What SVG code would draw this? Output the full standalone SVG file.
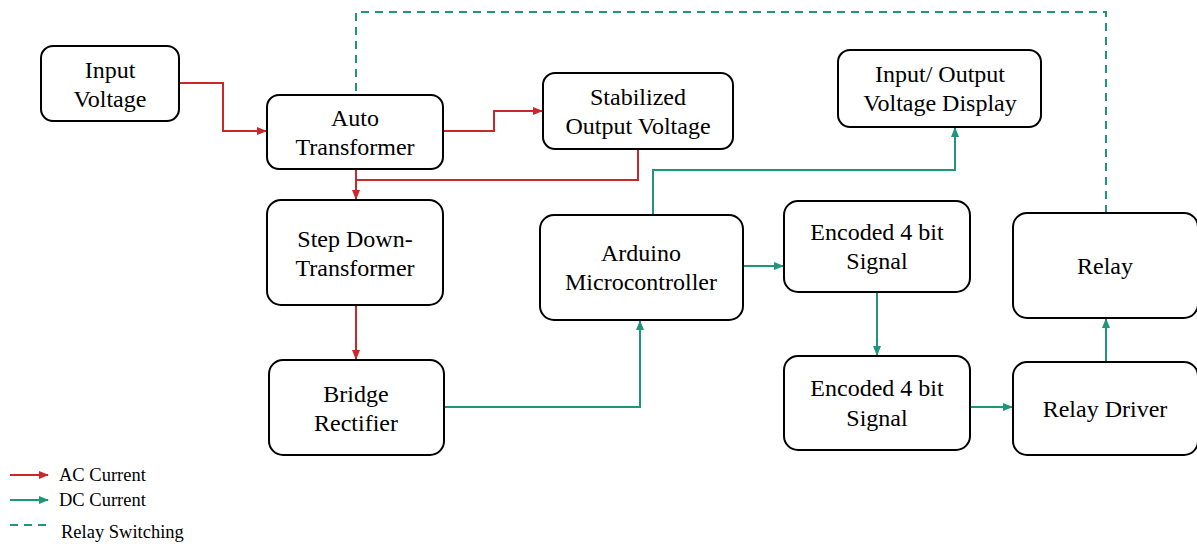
<svg xmlns="http://www.w3.org/2000/svg" width="1197" height="544" viewBox="0 0 1197 544">
<defs>
<style>
.box{fill:#fff;stroke:#000;stroke-width:2}
.t{font-family:"Liberation Serif","Times New Roman",serif;font-size:24px;fill:#000;text-anchor:middle}
.lg{font-family:"Liberation Serif","Times New Roman",serif;font-size:18.5px;fill:#000}
.ac{fill:none;stroke:#c8282a;stroke-width:2}
.dc{fill:none;stroke:#1f957a;stroke-width:2}
.sw{fill:none;stroke:#1f957a;stroke-width:2;stroke-dasharray:8,6}
</style>
<marker id="ra" markerWidth="10" markerHeight="10" refX="9" refY="5" orient="auto" markerUnits="userSpaceOnUse"><path d="M0,1 L10,5 L0,9 Z" fill="#c8282a"/></marker>
<marker id="ga" markerWidth="10" markerHeight="10" refX="9" refY="5" orient="auto" markerUnits="userSpaceOnUse"><path d="M0,1 L10,5 L0,9 Z" fill="#1f957a"/></marker>
</defs>
<rect width="1197" height="544" fill="#fff"/>
<g id="connectors">
<path class="ac" d="M179,83 H223 V131 H266" marker-end="url(#ra)"/>
<path class="ac" d="M443,131 H494 V111 H542" marker-end="url(#ra)"/>
<path class="ac" d="M356,169 V199" marker-end="url(#ra)"/>
<path class="ac" d="M638,149 V180 H356"/>
<path class="ac" d="M356,305 V359" marker-end="url(#ra)"/>
<path class="dc" d="M444,407 H640 V321" marker-end="url(#ga)"/>
<path class="dc" d="M653,215 V170 H955 V128" marker-end="url(#ga)"/>
<path class="dc" d="M743,266 H783" marker-end="url(#ga)"/>
<path class="dc" d="M877,292 V355" marker-end="url(#ga)"/>
<path class="dc" d="M970,407 H1012" marker-end="url(#ga)"/>
<path class="dc" d="M1106,362 V319" marker-end="url(#ga)"/>
<path class="sw" d="M1106,213 V12 H356 V95"/>
</g>
<g id="input-voltage"><rect class="box" x="41" y="46" width="138" height="75" rx="12"/><text class="t" x="110" y="78">Input</text><text class="t" x="110" y="107">Voltage</text></g>
<g id="auto-transformer"><rect class="box" x="267" y="95" width="176" height="74" rx="12"/><text class="t" x="355" y="126">Auto</text><text class="t" x="355" y="155">Transformer</text></g>
<g id="stabilized-output"><rect class="box" x="543" y="73" width="190" height="76" rx="12"/><text class="t" x="638" y="105">Stabilized</text><text class="t" x="638" y="134">Output Voltage</text></g>
<g id="io-display"><rect class="box" x="838" y="50" width="203" height="77" rx="12"/><text class="t" x="940" y="82">Input/ Output</text><text class="t" x="940" y="111">Voltage Display</text></g>
<g id="step-down"><rect class="box" x="267" y="200" width="176" height="105" rx="14"/><text class="t" x="355" y="247">Step Down-</text><text class="t" x="355" y="276">Transformer</text></g>
<g id="arduino"><rect class="box" x="540" y="215" width="203" height="105" rx="14"/><text class="t" x="641" y="261">Arduino</text><text class="t" x="641" y="290">Microcontroller</text></g>
<g id="encoded-1"><rect class="box" x="784" y="201" width="186" height="91" rx="14"/><text class="t" x="877" y="240">Encoded 4 bit</text><text class="t" x="877" y="269">Signal</text></g>
<g id="relay"><rect class="box" x="1013" y="213" width="185" height="105" rx="14"/><text class="t" x="1105" y="274">Relay</text></g>
<g id="bridge-rectifier"><rect class="box" x="269" y="360" width="175" height="95" rx="14"/><text class="t" x="356" y="402">Bridge</text><text class="t" x="356" y="431">Rectifier</text></g>
<g id="encoded-2"><rect class="box" x="784" y="356" width="186" height="94" rx="14"/><text class="t" x="877" y="396">Encoded 4 bit</text><text class="t" x="877" y="426">Signal</text></g>
<g id="relay-driver"><rect class="box" x="1013" y="362" width="185" height="93" rx="14"/><text class="t" x="1105" y="417">Relay Driver</text></g>
<g id="legend">
<path class="ac" d="M10,475 H48" marker-end="url(#ra)"/>
<text class="lg" x="59" y="481">AC Current</text>
<path class="dc" d="M10,500 H48" marker-end="url(#ga)"/>
<text class="lg" x="59" y="506">DC Current</text>
<path class="sw" d="M10,525 H48"/>
<text class="lg" x="61" y="538">Relay Switching</text>
</g>
</svg>
